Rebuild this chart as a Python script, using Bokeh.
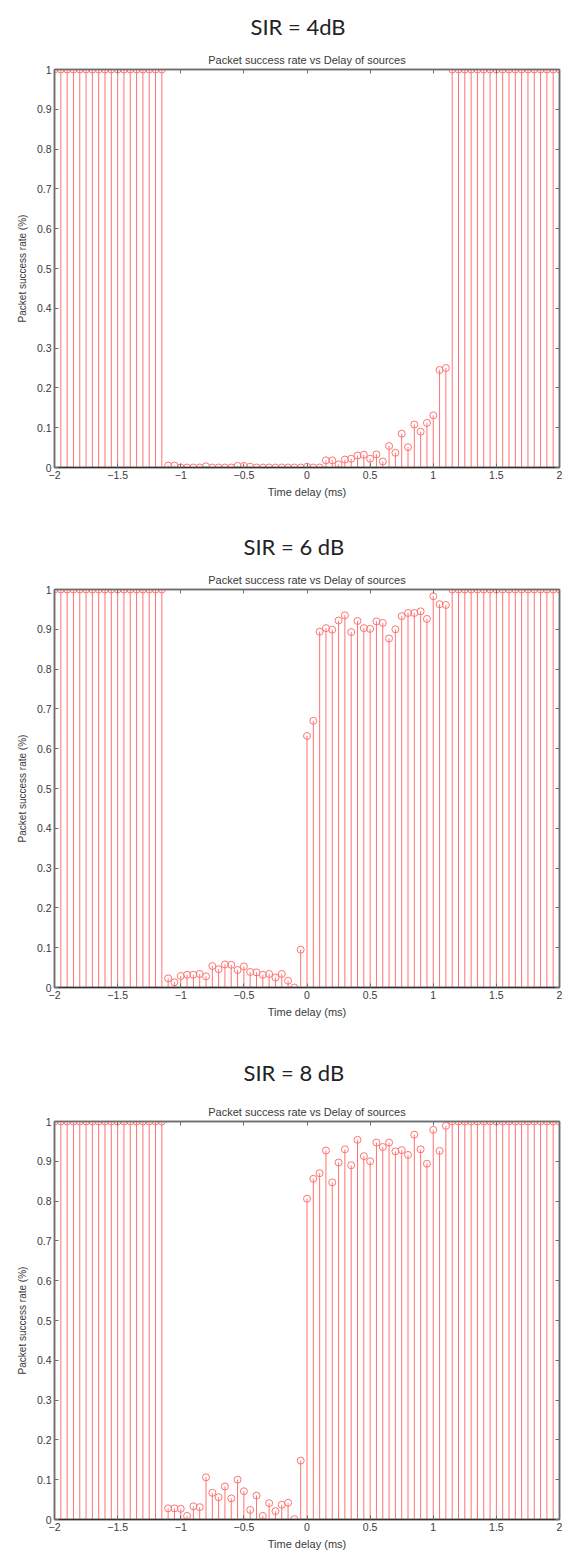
from bokeh.plotting import figure
from bokeh.layouts import column
from bokeh.models import Title, LinearAxis, FixedTicker, Range1d, ColumnDataSource
from bokeh.embed import file_html
from bokeh.resources import INLINE

# ---------------- data ----------------
delay_ms = [-2.0, -1.95, -1.9, -1.85, -1.8, -1.75, -1.7, -1.65, -1.6, -1.55,
            -1.5, -1.45, -1.4, -1.35, -1.3, -1.25, -1.2, -1.15,
            -1.1, -1.05, -1.0, -0.95, -0.9, -0.85, -0.8, -0.75, -0.7, -0.65,
            -0.6, -0.55, -0.5, -0.45, -0.4, -0.35, -0.3, -0.25, -0.2, -0.15,
            -0.1, -0.05, 0.0, 0.05, 0.1, 0.15, 0.2, 0.25, 0.3, 0.35, 0.4,
            0.45, 0.5, 0.55, 0.6, 0.65, 0.7, 0.75, 0.8, 0.85, 0.9, 0.95,
            1.0, 1.05, 1.1,
            1.15, 1.2, 1.25, 1.3, 1.35, 1.4, 1.45, 1.5, 1.55, 1.6, 1.65,
            1.7, 1.75, 1.8, 1.85, 1.9, 1.95, 2.0]

rate_sir4 = [1, 1, 1, 1, 1, 1, 1, 1, 1, 1, 1, 1, 1, 1, 1, 1, 1, 1,
             0.005, 0.005, 0.0, 0.0, 0.0, 0.0, 0.003, 0.0, 0.0, 0.0,
             0.0, 0.004, 0.004, 0.002, 0.0, 0.0, 0.0, 0.0, 0.0, 0.0,
             0.0, 0.0, 0.002, 0.0, 0.0, 0.018, 0.018, 0.008, 0.02, 0.022, 0.03,
             0.032, 0.022, 0.033, 0.015, 0.054, 0.037, 0.085, 0.051, 0.108, 0.09, 0.112,
             0.131, 0.245, 0.25,
             1, 1, 1, 1, 1, 1, 1, 1, 1, 1, 1, 1, 1, 1, 1, 1, 1, 1]

rate_sir6 = [1, 1, 1, 1, 1, 1, 1, 1, 1, 1, 1, 1, 1, 1, 1, 1, 1, 1,
             0.023, 0.013, 0.029, 0.032, 0.032, 0.034, 0.028, 0.054, 0.046, 0.058,
             0.057, 0.044, 0.053, 0.039, 0.038, 0.032, 0.034, 0.025, 0.034, 0.017,
             0.0, 0.095, 0.632, 0.67, 0.894, 0.903, 0.899, 0.922, 0.935, 0.893, 0.921,
             0.903, 0.901, 0.92, 0.916, 0.877, 0.9, 0.933, 0.941, 0.941, 0.945, 0.926,
             0.983, 0.963, 0.961,
             1, 1, 1, 1, 1, 1, 1, 1, 1, 1, 1, 1, 1, 1, 1, 1, 1, 1]

rate_sir8 = [1, 1, 1, 1, 1, 1, 1, 1, 1, 1, 1, 1, 1, 1, 1, 1, 1, 1,
             0.028, 0.028, 0.027, 0.009, 0.033, 0.031, 0.106, 0.067, 0.056, 0.083,
             0.053, 0.1, 0.071, 0.024, 0.06, 0.009, 0.041, 0.021, 0.037, 0.042,
             0.001, 0.148, 0.806, 0.856, 0.87, 0.927, 0.847, 0.897, 0.93, 0.89, 0.954,
             0.913, 0.9, 0.947, 0.936, 0.947, 0.925, 0.928, 0.916, 0.967, 0.93, 0.894,
             0.979, 0.926, 0.989,
             1, 1, 1, 1, 1, 1, 1, 1, 1, 1, 1, 1, 1, 1, 1, 1, 1, 1]

panel_titles = ["SIR = 4dB", "SIR = 6 dB", "SIR = 8 dB"]
chart_title = "Packet success rate vs Delay of sources"
x_label = "Time delay (ms)"
y_label = "Packet success rate (%)"

x_ticks = [-2, -1.5, -1, -0.5, 0, 0.5, 1, 1.5, 2]
x_tick_labels = ["\u22122", "\u22121.5", "\u22121", "\u22120.5", "0", "0.5", "1", "1.5", "2"]
y_ticks = [0, 0.1, 0.2, 0.3, 0.4, 0.5, 0.6, 0.7, 0.8, 0.9, 1]
y_tick_labels = ["0", "0.1", "0.2", "0.3", "0.4", "0.5", "0.6", "0.7", "0.8", "0.9", "1"]

# ---------------- styling ----------------
STEM = "#ff7373"
AXIS = "#6e6e6e"
BASE = "#333333"
TXT = "#3a3a3a"
FONT = "Liberation Sans"


def make_panel(sir_title, rates, height, top, bottom, sir_offset, sir_standoff):
    p = figure(width=574, height=height,
               x_range=Range1d(-2, 2), y_range=Range1d(0, 1),
               output_backend="svg", toolbar_location=None,
               min_border_left=54, min_border_right=15,
               min_border_top=top, min_border_bottom=bottom)
    p.title.visible = False

    xt = FixedTicker(ticks=x_ticks)
    yt = FixedTicker(ticks=y_ticks)
    blank_x = {t: "" for t in x_ticks}
    blank_y = {t: "" for t in y_ticks}

    # top / right axes: ticks only (MATLAB box)
    top_ax = LinearAxis(ticker=xt, major_label_overrides=blank_x,
                        major_label_text_font_size="1px",
                        major_label_standoff=0, major_tick_in=4, major_tick_out=0,
                        minor_tick_line_color=None, axis_line_color=AXIS,
                        axis_line_width=1.5, major_tick_line_color=AXIS)
    right_ax = LinearAxis(ticker=yt, major_label_overrides=blank_y,
                          major_label_text_font_size="1px",
                          major_label_standoff=0, major_tick_in=4, major_tick_out=0,
                          minor_tick_line_color=None, axis_line_color=AXIS,
                          axis_line_width=1.5, major_tick_line_color=AXIS)
    p.add_layout(top_ax, "above")
    p.add_layout(right_ax, "right")

    p.add_layout(Title(text=chart_title, align="center", text_font=FONT,
                       text_font_size="11px", text_font_style="normal",
                       text_color=TXT, standoff=7), "above")
    p.add_layout(Title(text=sir_title, align="left", offset=sir_offset,
                       text_font="Lato", text_font_size="22px",
                       text_font_style="normal", text_color="#222222",
                       standoff=sir_standoff), "above")

    src = ColumnDataSource(dict(x=delay_ms, y=rates))
    p.segment(x0="x", y0=0, x1="x", y1="y", source=src,
              line_color=STEM, line_width=1)
    p.scatter(x="x", y="y", source=src, marker="circle", size=7,
              fill_color=None, line_color=STEM, line_width=1)

    p.xgrid.visible = False
    p.ygrid.visible = False
    p.outline_line_color = AXIS
    p.outline_line_width = 1.5
    p.background_fill_color = "white"
    p.border_fill_color = "white"

    for ax in p.below:
        if isinstance(ax, LinearAxis):
            ax.ticker = xt
            ax.major_label_overrides = {t: l for t, l in zip(x_ticks, x_tick_labels)}
            ax.axis_label = x_label
            ax.axis_label_text_font_size = "11px"
            ax.axis_line_color = BASE
            ax.axis_label_standoff = 4
    for ax in p.left:
        if isinstance(ax, LinearAxis):
            ax.ticker = yt
            ax.major_label_overrides = {t: l for t, l in zip(y_ticks, y_tick_labels)}
            ax.axis_label = y_label
            ax.axis_label_text_font_size = "10px"
            ax.axis_line_color = AXIS
            ax.axis_label_standoff = 6

    for ax in list(p.below) + list(p.left):
        if not isinstance(ax, LinearAxis):
            continue
        ax.major_tick_in = 4
        ax.major_tick_out = 0
        ax.minor_tick_line_color = None
        ax.axis_line_width = 1.5
        ax.major_tick_line_color = AXIS
        ax.major_label_text_font = FONT
        ax.major_label_text_font_size = "10.5px"
        ax.major_label_text_color = TXT
        ax.major_label_standoff = 3
        ax.axis_label_text_font = FONT
        ax.axis_label_text_font_style = "normal"
        ax.axis_label_text_color = TXT
    return p


p1 = make_panel(panel_titles[0], rate_sir4, 520, 69, 53, 196, 17)
p2 = make_panel(panel_titles[1], rate_sir6, 520, 69, 53, 189, 17)
p3 = make_panel(panel_titles[2], rate_sir8, 519, 81, 40, 189, 29)

layout = column(p1, p2, p3, spacing=0)
open("out.html", "w").write(file_html(layout, INLINE))
